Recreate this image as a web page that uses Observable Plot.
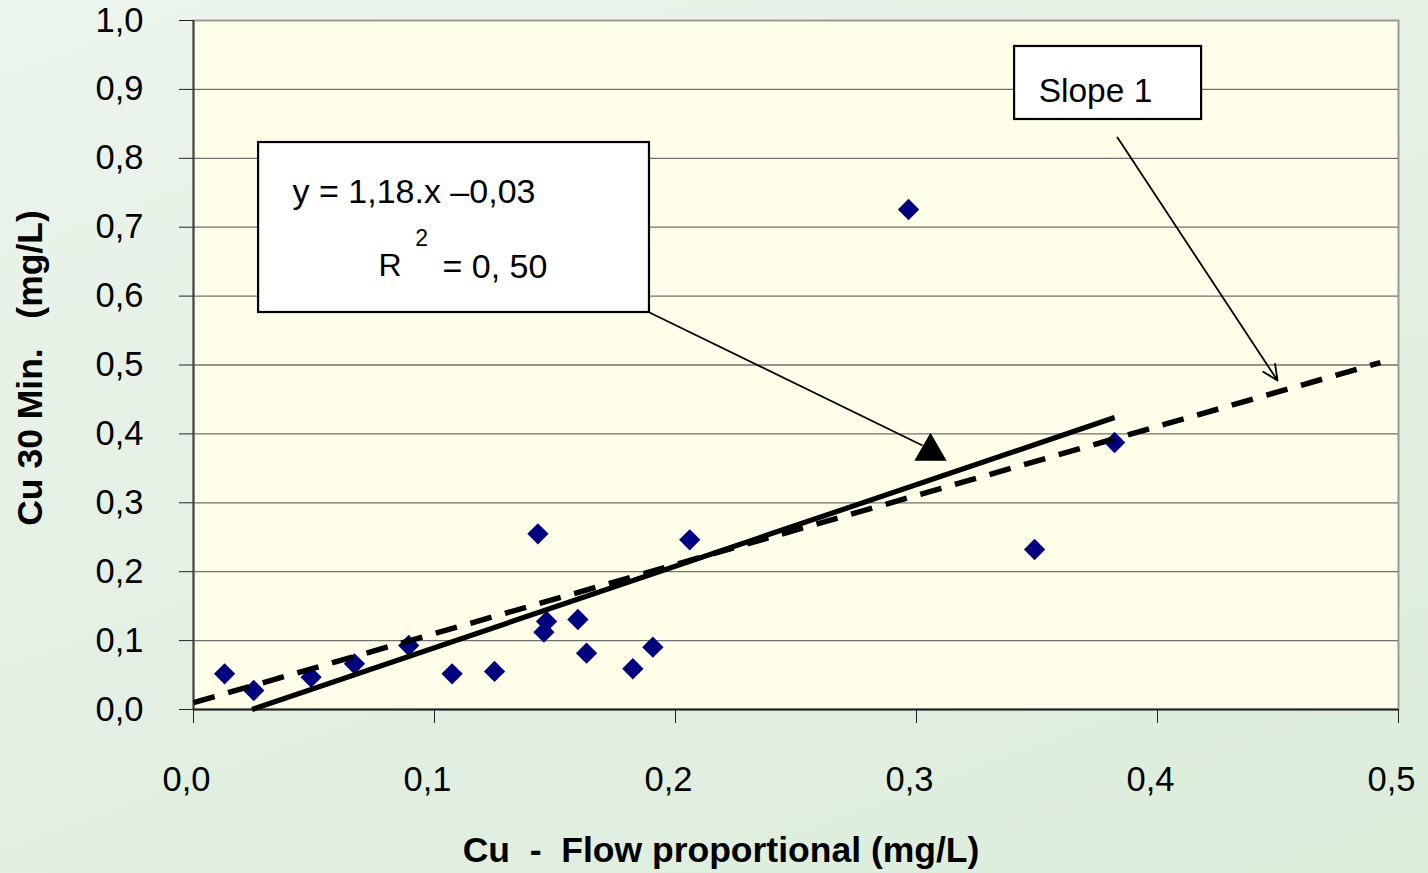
<!DOCTYPE html>
<html>
<head>
<meta charset="utf-8">
<script src="https://cdn.jsdelivr.net/npm/d3@7"></script>
<script src="https://cdn.jsdelivr.net/npm/@observablehq/plot@0.6"></script>
<style>
  html, body { margin: 0; padding: 0; }
  body {
    width: 1428px; height: 873px; overflow: hidden;
    background: linear-gradient(160deg, #ecf5ec 0%, #e3f0e3 50%, #dcedda 100%);
    font-family: "Liberation Sans", Arial, sans-serif;
  }
</style>
</head>
<body>
<div id="chart"></div>
<script>
// Measured points
const cuFlow = [0.0129, 0.0250, 0.0488, 0.0668, 0.0893, 0.1073, 0.1249, 0.1429, 0.1454, 0.1465, 0.1595, 0.1631, 0.1823, 0.1906, 0.2059, 0.2967, 0.3490, 0.3822];
const cu30   = [0.0518, 0.0276, 0.0469, 0.0663, 0.0929, 0.0518, 0.0552, 0.2550, 0.1122, 0.1277, 0.1306, 0.0817, 0.0591, 0.0904, 0.2463, 0.7257, 0.2322, 0.3875];

// Regression line (solid) endpoints
const fitX = [0.0243, 0.3822];
const fitY = [0.0, 0.4238];

// Slope-1 reference line (dashed) endpoints
const refX = [0.0, 0.4925];
const refY = [0.010, 0.5036];

// Tick values
const xTicks = [0, 0.1, 0.2, 0.3, 0.4, 0.5];
const yTicks = [0, 0.1, 0.2, 0.3, 0.4, 0.5, 0.6, 0.7, 0.8, 0.9, 1.0];

const eqLine1 = "y = 1,18.x \u20130,03";
const eqR = "R";
const eqSup = "2";
const eqRest = "= 0, 50";
const slopeLabel = "Slope 1";
const xTitle = "Cu \u00a0-\u00a0 Flow proportional (mg/L)";
const yTitle = "Cu 30 Min. \u00a0\u00a0(mg/L)";

const fmt = d => d.toFixed(1).replace(".", ",");

const points = cuFlow.map((x, i) => ({x, y: cu30[i]}));
const fit = fitX.map((x, i) => ({x, y: fitY[i]}));
const ref = refX.map((x, i) => ({x, y: refY[i]}));

const plot = Plot.plot({
  width: 1428,
  height: 873,
  marginLeft: 193,
  marginRight: 30,
  marginTop: 20,
  marginBottom: 164,
  style: {background: "transparent", fontFamily: "'Liberation Sans', Arial, sans-serif", fontSize: "34px", color: "#000"},
  x: {domain: [0, 0.5]},
  y: {domain: [0, 1]},
  marks: [
    Plot.frame({fill: "#ffffe9", stroke: "#999", strokeWidth: 2}),
    Plot.ruleY(yTicks.filter(d => d > 0 && d < 1), {stroke: "#707070", strokeWidth: 1.3}),
    Plot.ruleX([0], {stroke: "#444", strokeWidth: 2}),
    Plot.ruleY([0], {stroke: "#222", strokeWidth: 2}),
    Plot.axisY({ticks: yTicks, tickFormat: fmt, tickSize: 14, tickPadding: 36, fontSize: 34.5, stroke: "#222", label: null}),
    Plot.axisX({ticks: xTicks, tickFormat: () => "", tickSize: 14, stroke: "#222", label: null}),
    Plot.axisX({ticks: xTicks, tickFormat: fmt, tickSize: 0, tickPadding: 57, fontSize: 34.5, dx: -7, label: null}),
    Plot.dot(points, {x: "x", y: "y", symbol: "diamond2", r: 9.6, fill: "#000080", stroke: "none"}),
    Plot.line(ref, {x: "x", y: "y", stroke: "#000", strokeWidth: 5.5, strokeDasharray: "22,14", strokeLinecap: "butt"}),
    Plot.line(fit, {x: "x", y: "y", stroke: "#000", strokeWidth: 5.2, strokeLinecap: "butt"}),
    // equation box
    Plot.rect([0], {x1: 0.0270, x2: 0.1892, y1: 0.5762, y2: 0.8229, fill: "#fff", stroke: "#000", strokeWidth: 2.2}),
    Plot.text([eqLine1], {x: 0.0411, y: 0.7358, text: d => d, textAnchor: "start", lineAnchor: "bottom", fontSize: 34}),
    Plot.text([eqR], {x: 0.0768, y: 0.6295, text: d => d, textAnchor: "start", lineAnchor: "bottom", fontSize: 32}),
    Plot.text([eqSup], {x: 0.0920, y: 0.6720, text: d => d, textAnchor: "start", lineAnchor: "bottom", fontSize: 23}),
    Plot.text([eqRest], {x: 0.1033, y: 0.6266, text: d => d, textAnchor: "start", lineAnchor: "bottom", fontSize: 34}),
    // slope box
    Plot.rect([0], {x1: 0.3407, x2: 0.4183, y1: 0.8563, y2: 0.9623, fill: "#fff", stroke: "#000", strokeWidth: 2.2}),
    Plot.text([slopeLabel], {x: 0.3507, y: 0.8824, text: d => d, textAnchor: "start", lineAnchor: "bottom", fontSize: 33.5}),
    // pointer from equation box
    Plot.link([0], {x1: 0.1892, y1: 0.5762, x2: 0.3025, y2: 0.3832, stroke: "#000", strokeWidth: 1.8}),
    Plot.dot([0], {x: () => 0.3058, y: () => 0.3745, symbol: "triangle", r: 12, fill: "#000", stroke: "none"}),
    // pointer from slope box
    Plot.arrow([0], {x1: 0.3834, y1: 0.8302, x2: 0.4498, y2: 0.4775, stroke: "#000", strokeWidth: 1.8, headLength: 14, headAngle: 50}),
    // axis titles
    Plot.text([yTitle], {frameAnchor: "left", textAnchor: "middle", dx: -163, dy: 3, rotate: -90, text: d => d, fontWeight: "bold", fontSize: 35.5}),
    Plot.text([xTitle], {frameAnchor: "bottom", dx: -75, dy: 152, text: d => d, lineAnchor: "bottom", fontWeight: "bold", fontSize: 35.5})
  ]
});
document.getElementById("chart").appendChild(plot);
</script>
</body>
</html>
